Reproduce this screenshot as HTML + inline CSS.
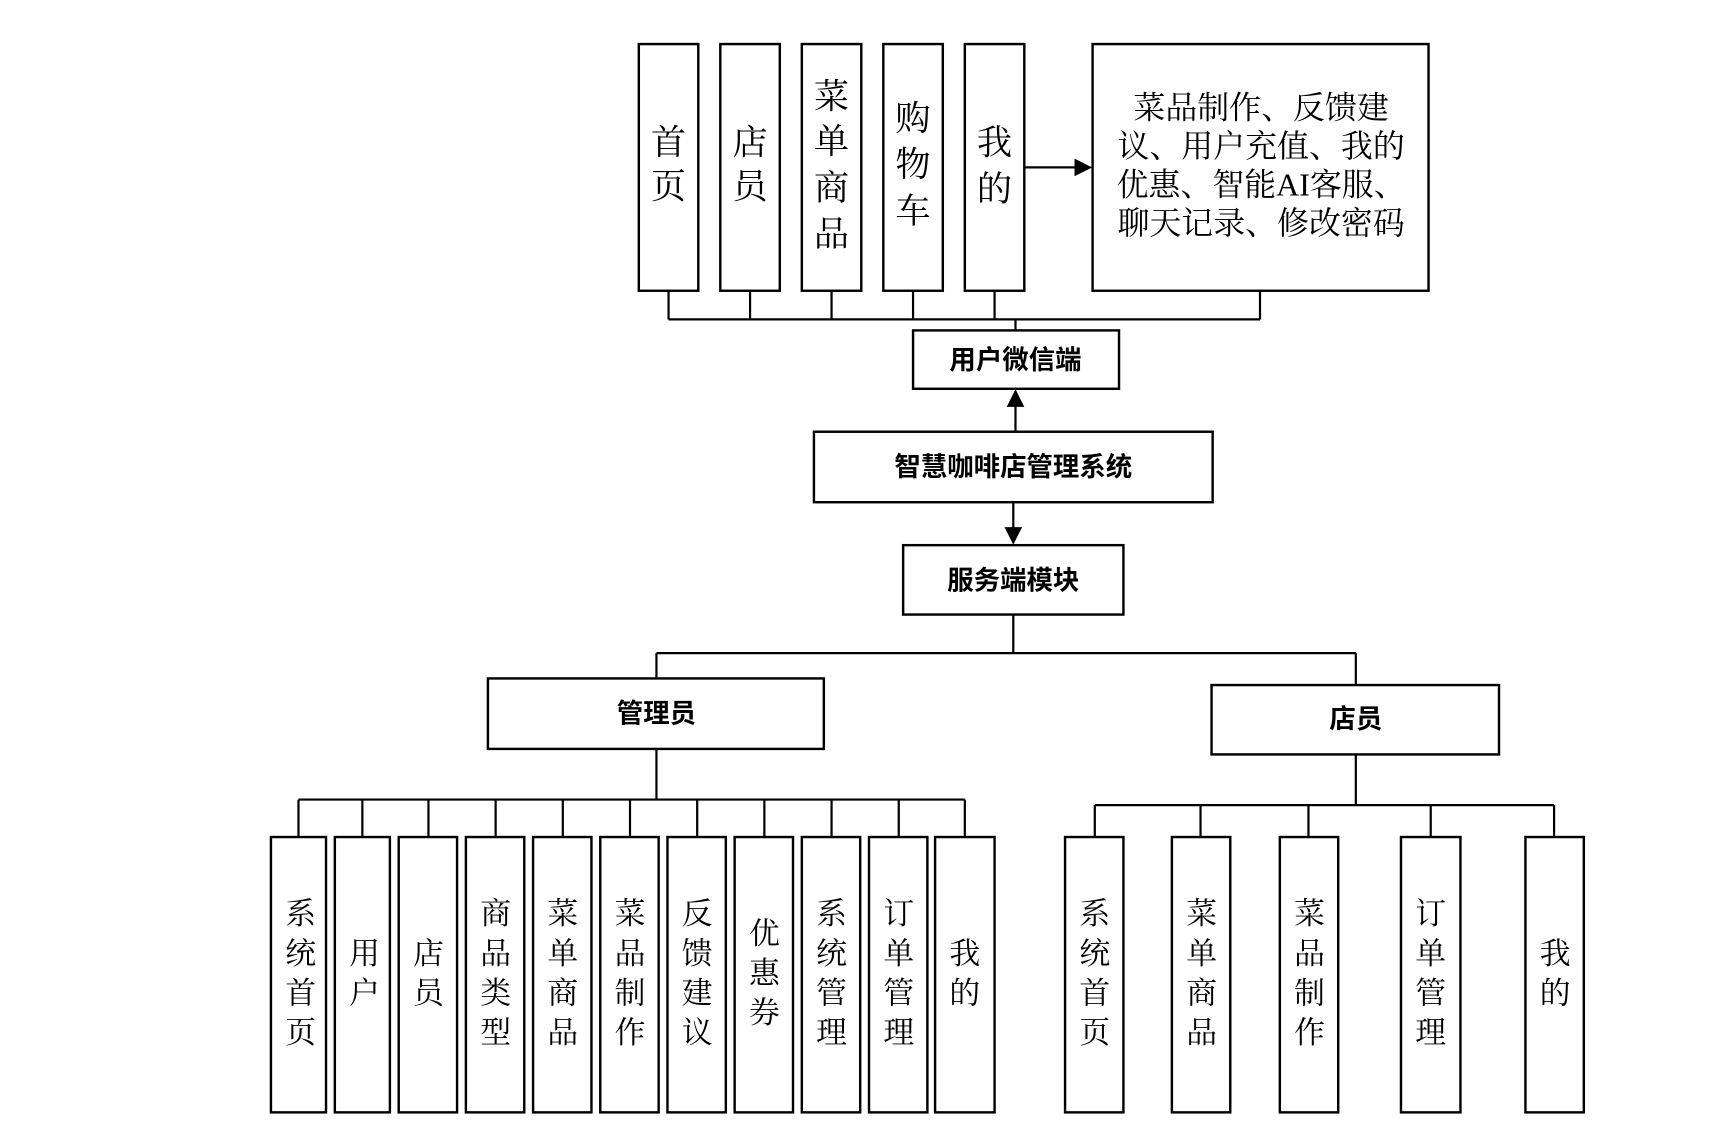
<!DOCTYPE html>
<html><head><meta charset="utf-8"><style>html,body{margin:0;padding:0;background:#fff;}svg{display:block}</style></head>
<body>
<svg width="1727" height="1141" viewBox="0 0 1568 1036" preserveAspectRatio="none" xmlns="http://www.w3.org/2000/svg">
<defs><marker id="b" viewBox="0 0 10 10" refX="9" refY="5" markerWidth="16" markerHeight="16" orient="auto" markerUnits="userSpaceOnUse"><path d="M0,0L10,5L0,10z" fill="#000"/></marker></defs>
<g fill="#fff" stroke="#000" stroke-width="2.2">
<rect x="580" y="40" width="54" height="224"/><rect x="654" y="40" width="54" height="224"/><rect x="728" y="40" width="54" height="224"/><rect x="802" y="40" width="54" height="224"/><rect x="876" y="40" width="54" height="224"/><rect x="992" y="40" width="305" height="224"/>
<rect x="829" y="300" width="187" height="53"/><rect x="739" y="392" width="362" height="64"/><rect x="820" y="495" width="200" height="63"/>
<rect x="443" y="616" width="305" height="64"/><rect x="1100" y="622" width="261" height="63"/>
<rect x="246" y="760" width="50" height="250"/><rect x="304" y="760" width="50" height="250"/><rect x="362" y="760" width="53" height="250"/><rect x="423" y="760" width="53" height="250"/><rect x="484" y="760" width="53" height="250"/><rect x="545" y="760" width="53" height="250"/><rect x="606" y="760" width="53" height="250"/><rect x="667" y="760" width="53" height="250"/><rect x="728" y="760" width="53" height="250"/><rect x="789" y="760" width="53" height="250"/><rect x="849" y="760" width="54" height="250"/>
<rect x="967" y="760" width="53" height="250"/><rect x="1064" y="760" width="53" height="250"/><rect x="1162" y="760" width="53" height="250"/><rect x="1272" y="760" width="54" height="250"/><rect x="1385" y="760" width="53" height="250"/>
</g>
<g fill="none" stroke="#000" stroke-width="2">
<path d="M607 264V290M681 264V290M755 264V290M829 264V290M903 264V290M1144 264V290M607 290H1144M922 290V300"/>
<path d="M596 593H1231M920 558V593M596 593V616M1231 593V622M596 680V726M271 726H876M1231 685V731M994 731H1411"/>
<path d="M271 726V760M329 726V760M389 726V760M450 726V760M511 726V760M572 726V760M633 726V760M694 726V760M755 726V760M816 726V760M876 726V760"/>
<path d="M994 731V760M1090 731V760M1188 731V760M1299 731V760M1411 731V760"/>
<line x1="930" y1="152" x2="990" y2="152" marker-end="url(#b)"/>
<line x1="922" y1="392" x2="922" y2="355" marker-end="url(#b)"/>
<line x1="920" y1="456" x2="920" y2="493" marker-end="url(#b)"/>
</g>
<g font-family="'Liberation Serif','Noto Serif CJK SC',serif" font-size="32" text-anchor="middle" dominant-baseline="central" fill="#000">
<text x="607" y="130">首</text><text x="607" y="170">页</text>
<text x="681" y="130">店</text><text x="681" y="170">员</text>
<text x="755" y="88">菜</text><text x="755" y="129">单</text><text x="755" y="171">商</text><text x="755" y="213">品</text>
<text x="829" y="108">购</text><text x="829" y="150">物</text><text x="829" y="192">车</text>
<text x="903" y="130">我</text><text x="903" y="172">的</text>
</g>
<g font-family="'Liberation Serif','Noto Serif CJK SC',serif" font-size="29" text-anchor="middle" dominant-baseline="central" fill="#000">
<text x="1145" y="98">菜品制作、反馈建</text><text x="1145" y="133">议、用户充值、我的</text><text x="1145" y="168">优惠、智能AI客服、</text><text x="1145" y="203">聊天记录、修改密码</text>
</g>
<g font-family="'Liberation Sans','Noto Sans CJK SC',sans-serif" font-size="24" font-weight="bold" text-anchor="middle" dominant-baseline="central" fill="#000">
<text x="922" y="327">用户微信端</text><text x="920" y="424">智慧咖啡店管理系统</text><text x="920" y="527">服务端模块</text><text x="596" y="648">管理员</text><text x="1231" y="653">店员</text>
</g>
<g font-family="'Liberation Serif','Noto Serif CJK SC',serif" font-size="28" text-anchor="middle" dominant-baseline="central" fill="#000">
<text x="273" y="830">系</text><text x="273" y="866">统</text><text x="273" y="902">首</text><text x="273" y="938">页</text>
<text x="331" y="866">用</text><text x="331" y="902">户</text>
<text x="389" y="866">店</text><text x="389" y="902">员</text>
<text x="450" y="830">商</text><text x="450" y="866">品</text><text x="450" y="902">类</text><text x="450" y="938">型</text>
<text x="511" y="830">菜</text><text x="511" y="866">单</text><text x="511" y="902">商</text><text x="511" y="938">品</text>
<text x="572" y="830">菜</text><text x="572" y="866">品</text><text x="572" y="902">制</text><text x="572" y="938">作</text>
<text x="633" y="830">反</text><text x="633" y="866">馈</text><text x="633" y="902">建</text><text x="633" y="938">议</text>
<text x="694" y="848">优</text><text x="694" y="884">惠</text><text x="694" y="920">券</text>
<text x="755" y="830">系</text><text x="755" y="866">统</text><text x="755" y="902">管</text><text x="755" y="938">理</text>
<text x="816" y="830">订</text><text x="816" y="866">单</text><text x="816" y="902">管</text><text x="816" y="938">理</text>
<text x="876" y="866">我</text><text x="876" y="902">的</text>
<text x="994" y="830">系</text><text x="994" y="866">统</text><text x="994" y="902">首</text><text x="994" y="938">页</text>
<text x="1091" y="830">菜</text><text x="1091" y="866">单</text><text x="1091" y="902">商</text><text x="1091" y="938">品</text>
<text x="1189" y="830">菜</text><text x="1189" y="866">品</text><text x="1189" y="902">制</text><text x="1189" y="938">作</text>
<text x="1299" y="830">订</text><text x="1299" y="866">单</text><text x="1299" y="902">管</text><text x="1299" y="938">理</text>
<text x="1412" y="866">我</text><text x="1412" y="902">的</text>
</g>
</svg>
</body></html>
